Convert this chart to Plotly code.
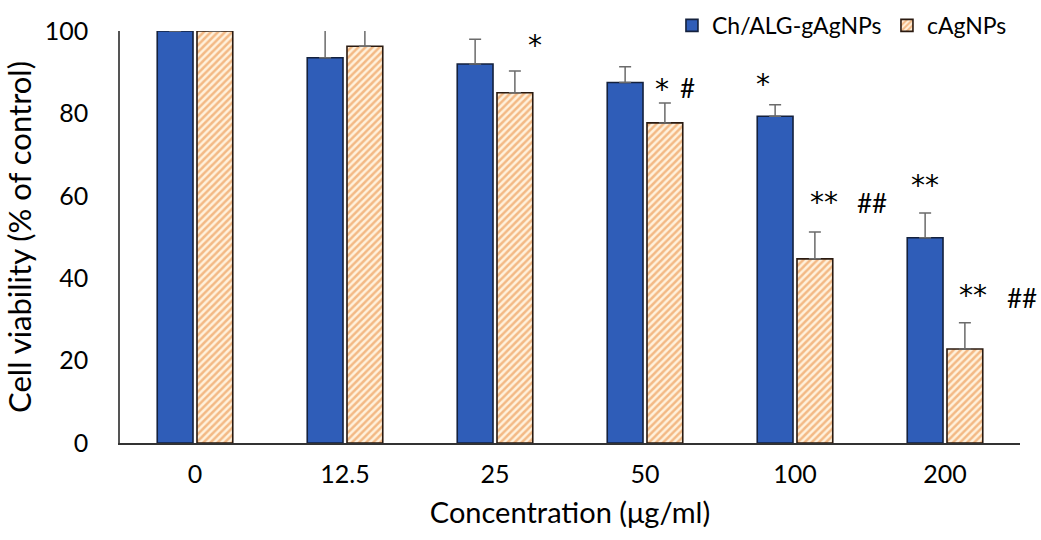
import plotly.graph_objects as go

categories = ["0", "12.5", "25", "50", "100", "200"]
gagnps = [100, 93.5, 92, 87.5, 79.3, 49.8]
gagnps_err = [0, 7, 6, 3.8, 2.8, 6]
cagnps = [100, 96.3, 85, 77.7, 44.7, 22.8]
cagnps_err = [0, 4, 5.3, 4.8, 6.5, 6.4]
ann_text = ["*", "*", "#", "*", "**", "##", "**", "**", "##"]
ann_cat = ["25", "50", "50", "100", "100", "100", "200", "200", "200"]
ann_y = [96.6, 85.7, 86.2, 86.9, 58.3, 58.3, 62.6, 35.9, 35.2]
ann_shift = [40, 17, 42, -32, 29, 77, -20, 28, 77]

xpos = list(range(len(categories)))
FONT = "Lato"
fig = go.Figure()
fig.add_bar(
    x=xpos, y=gagnps, name="Ch/ALG-gAgNPs",
    marker=dict(color="#2F5DB8", line=dict(color="#14213D", width=1.6)),
    error_y=dict(type="data", array=gagnps_err, arrayminus=[0]*6, symmetric=False,
                 color="#6b6b6b", thickness=1.5, width=6),
)
fig.add_bar(
    x=xpos, y=cagnps, name="cAgNPs",
    marker=dict(color="#FFF1DC", line=dict(color="#2a1a10", width=1.6),
                pattern=dict(shape="/", fgcolor="#E8812E", bgcolor="#FFF1DC", size=5, solidity=0.5)),
    error_y=dict(type="data", array=cagnps_err, arrayminus=[0]*6, symmetric=False,
                 color="#6b6b6b", thickness=1.5, width=6),
)
for t, c, yv, s in zip(ann_text, ann_cat, ann_y, ann_shift):
    fig.add_annotation(x=categories.index(c), y=yv, text=t, showarrow=False, xshift=s,
                       font=dict(family="DejaVu Sans" if "*" in t else FONT,
                                 size=28 if "*" in t else 26, color="black"))

fig.update_layout(
    width=1041, height=540,
    margin=dict(l=120, r=21, t=31, b=97, autoexpand=False),
    plot_bgcolor="white", paper_bgcolor="white",
    barmode="group", bargap=0.47, bargroupgap=0.1,
    font=dict(family=FONT, size=25, color="black"),
    legend=dict(orientation="h", x=0.6455, xanchor="left", xref="container", yref="container",
                y=0.953, yanchor="middle", itemwidth=30, entrywidth=170, entrywidthmode="pixels",
                font=dict(size=23), bgcolor="rgba(0,0,0,0)"),
    showlegend=True,
)
fig.update_xaxes(range=[-0.5, 5.5], tickvals=xpos, ticktext=categories,
                 showline=True, linecolor="#333", linewidth=1.5, ticks="", showgrid=False,
                 zeroline=False, automargin=False, ticklabelstandoff=8,
                 title=dict(text="Concentration (μg/ml)", standoff=16, font=dict(size=29)))
fig.update_yaxes(range=[0, 100], showline=True, linecolor="#555", linewidth=1.5, ticks="",
                 showgrid=False, zeroline=False, tickvals=[0, 20, 40, 60, 80, 100],
                 ticklabelstandoff=25, automargin=False,
                 title=dict(text="Cell viability (% of control)", standoff=12, font=dict(size=31)))
fig.write_html("out.html", config={"displayModeBar": False},
               post_script="document.body.style.margin='0';document.body.style.overflow='hidden';")
